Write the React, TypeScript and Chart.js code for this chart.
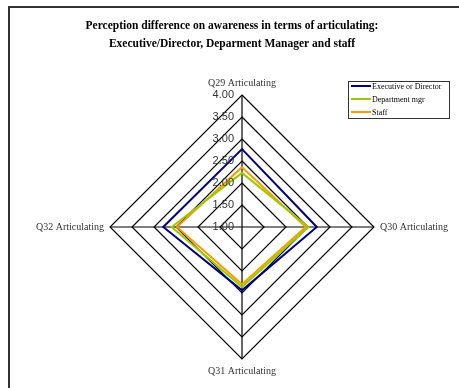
import React, { useEffect, useRef } from "react";
import { Chart, registerables } from "chart.js";

Chart.register(...registerables);

const categories = ["Q29 Articulating", "Q30 Articulating", "Q31 Articulating", "Q32 Articulating"];
const seriesNames = ["Executive or Director", "Department mgr", "Staff"];
const executiveValues = [2.77, 2.7, 2.44, 2.79];
const deptMgrValues = [2.23, 2.51, 2.36, 2.6];
const staffValues = [2.36, 2.45, 2.3, 2.48];
const seriesColors = ["#000080", "#99CC00", "#FF9900"];
const titleLines = [
  "Perception difference on awareness in terms of articulating:",
  "Executive/Director, Deparment Manager and staff",
];
const scaleMin = 1;
const scaleMax = 4;
const scaleStep = 0.5;

const decorPlugin = {
  id: "decor",
  beforeDraw(chart: any) {
    const ctx = chart.ctx;
    ctx.save();
    ctx.fillStyle = "#ffffff";
    ctx.fillRect(0, 0, chart.width, chart.height);
    // frame (top and left edges)
    ctx.strokeStyle = "#333333";
    ctx.lineWidth = 2;
    ctx.beginPath();
    ctx.moveTo(9, chart.height);
    ctx.lineTo(9, 7);
    ctx.lineTo(chart.width, 7);
    ctx.stroke();
    // title
    ctx.fillStyle = "#000000";
    ctx.font = "bold 11.5px 'Liberation Serif'";
    ctx.textAlign = "center";
    ctx.textBaseline = "middle";
    ctx.fillText(titleLines[0], 232, 26);
    ctx.fillText(titleLines[1], 232, 44);
    ctx.restore();
  },
  afterDatasetsDraw(chart: any) {
    const ctx = chart.ctx;
    const scale = chart.scales.r;
    ctx.save();
    // tick labels, right-aligned just left of the vertical axis
    ctx.fillStyle = "#333333";
    ctx.font = "11px 'Liberation Sans'";
    ctx.textAlign = "right";
    ctx.textBaseline = "middle";
    scale.ticks.forEach((t: any) => {
      const d = scale.getDistanceFromCenterForValue(t.value);
      ctx.fillText(Number(t.value).toFixed(2), scale.xCenter - 8, scale.yCenter - d);
    });
    ctx.restore();
  },
  afterDraw(chart: any) {
    const ctx = chart.ctx;
    ctx.save();
    // legend
    const bx = 348, by = 81, bw = 101, bh = 37;
    ctx.strokeStyle = "#333333";
    ctx.lineWidth = 1;
    ctx.strokeRect(bx + 0.5, by + 0.5, bw, bh);
    ctx.font = "8px 'Liberation Serif'";
    ctx.textAlign = "left";
    ctx.textBaseline = "middle";
    ctx.fillStyle = "#000000";
    chart.data.datasets.forEach((ds: any, i: number) => {
      const y = 86 + i * 13;
      ctx.strokeStyle = ds.borderColor;
      ctx.lineWidth = 2;
      ctx.beginPath();
      ctx.moveTo(351, y);
      ctx.lineTo(371, y);
      ctx.stroke();
      ctx.fillText(ds.label, 372, y + 0.5);
    });
    ctx.restore();
  },
};

export default function App() {
  const ref = useRef<HTMLCanvasElement | null>(null);
  useEffect(() => {
    if (!ref.current) return;
    const series = [executiveValues, deptMgrValues, staffValues];
    const chart = new Chart(ref.current, {
      type: "radar",
      data: {
        labels: categories,
        datasets: series.map((vals, i) => ({
          label: seriesNames[i],
          data: vals,
          borderColor: seriesColors[i],
          backgroundColor: "transparent",
          borderWidth: 2,
          pointRadius: 0,
          fill: false,
        })),
      },
      options: {
        responsive: false,
        animation: false,
        devicePixelRatio: 1,
        layout: { padding: { left: 36, right: 11, top: 76, bottom: 10 } },
        plugins: {
          legend: { display: false },
          title: { display: false },
          tooltip: { enabled: false },
        },
        scales: {
          r: {
            min: scaleMin,
            max: scaleMax,
            beginAtZero: false,
            grid: { color: "#000000", lineWidth: 1.2 },
            angleLines: { color: "#000000", lineWidth: 1.2 },
            ticks: {
              stepSize: scaleStep,
              display: false,
              showLabelBackdrop: false,
            },
            pointLabels: {
              color: "#333333",
              font: { family: "'Liberation Serif'", size: 10 },
              padding: 6,
            },
          },
        },
      },
      plugins: [decorPlugin],
    });
    return () => chart.destroy();
  }, []);
  return (
    <div style={{ position: "absolute", left: 0, top: 0, width: 459, height: 388 }}>
      <canvas ref={ref} width={459} height={388} style={{ display: "block" }} />
    </div>
  );
}
